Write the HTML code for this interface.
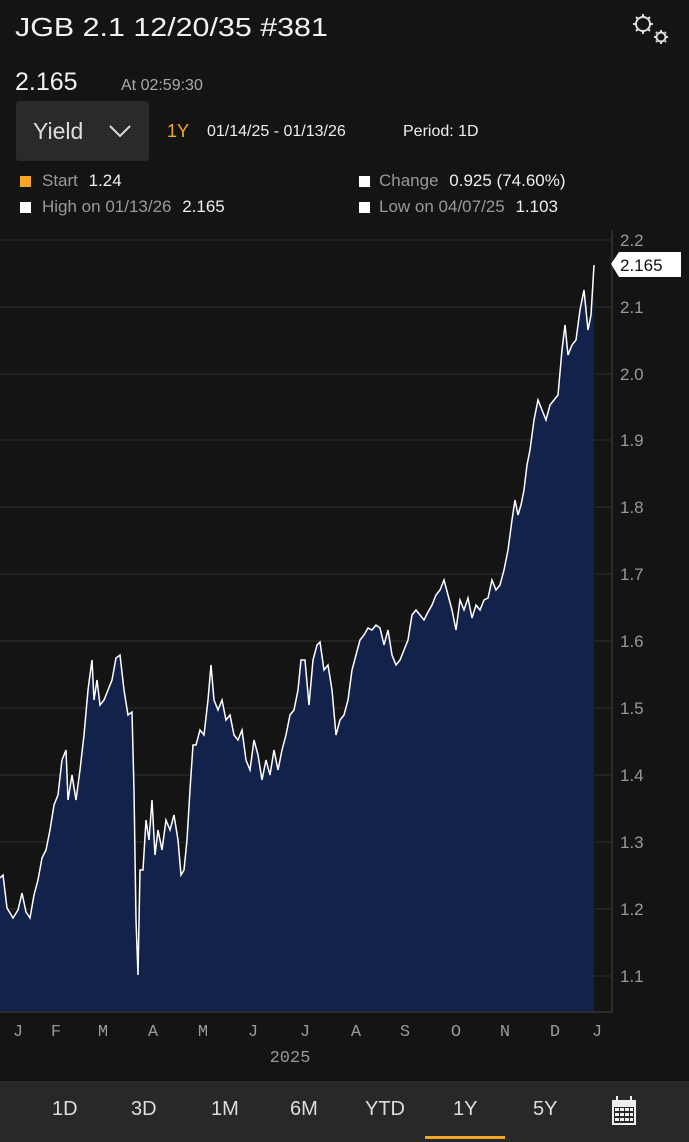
<!DOCTYPE html>
<html><head><style>
body{margin:0;width:689px;height:1142px;background:#141414;font-family:"Liberation Sans","DejaVu Sans",sans-serif;color:#eee;position:relative;overflow:hidden}
.a{position:absolute;white-space:nowrap}
</style></head><body>
<div class="a" style="left:15px;top:12px;font-size:26px;color:#f2f2f2;transform:scaleX(1.17);transform-origin:left">JGB 2.1 12/20/35 #381</div>
<svg class="a" style="left:628px;top:10px" width="44" height="36" viewBox="0 0 44 36" fill="none" stroke="#ddd" stroke-width="2">
<circle cx="15" cy="14" r="7"/><path d="M15 4v3M15 21v3M5 14h3M22 14h3M8 7l2 2M20 19l2 2M8 21l2-2M20 9l2-2"/>
<circle cx="33" cy="27" r="4.5"/><path d="M33 20v2M33 32v2M26 27h2M38 27h2M28 22l1 1M37 31l1 1M28 32l1-1M37 23l1-1"/></svg>
<div class="a" style="left:15px;top:68px;font-size:25px;color:#f2f2f2">2.165</div>
<div class="a" style="left:121px;top:77px;font-size:16px;color:#aaa">At 02:59:30</div>
<div class="a" style="left:16px;top:101px;width:133px;height:60px;background:#2a2a2a;border-radius:3px"></div>
<div class="a" style="left:33px;top:118px;font-size:23px;color:#ddd">Yield</div>
<svg class="a" style="left:108px;top:124px" width="24" height="14"><path d="M2 2l10 10 10-10" stroke="#ddd" stroke-width="2" fill="none"/></svg>
<div class="a" style="left:167px;top:121px;font-size:18px;color:#f5a623">1Y</div>
<div class="a" style="left:207px;top:123px;font-size:16px;color:#eee">01/14/25 - 01/13/26</div>
<div class="a" style="left:306px;top:123px;font-size:16px;color:#eee;display:none"></div>
<div class="a" style="left:403px;top:123px;font-size:16px;color:#eee">Period: 1D</div>
<div class="a" style="left:20px;top:176px;width:11px;height:11px;background:#f5a623"></div>
<div class="a" style="left:42px;top:171px;font-size:17px;color:#999">Start <span style="color:#eee;margin-left:6px">1.24</span></div>
<div class="a" style="left:20px;top:202px;width:11px;height:11px;background:#fff"></div>
<div class="a" style="left:42px;top:197px;font-size:17px;color:#999">High on 01/13/26 <span style="color:#eee;margin-left:6px">2.165</span></div>
<div class="a" style="left:359px;top:176px;width:11px;height:11px;background:#fff"></div>
<div class="a" style="left:379px;top:171px;font-size:17px;color:#999">Change <span style="color:#eee;margin-left:6px">0.925 (74.60%)</span></div>
<div class="a" style="left:359px;top:202px;width:11px;height:11px;background:#fff"></div>
<div class="a" style="left:379px;top:197px;font-size:17px;color:#999">Low on 04/07/25 <span style="color:#eee;margin-left:6px">1.103</span></div>

<svg class="a" style="left:0;top:0" width="689" height="1080">
<g stroke="#2e2e2e" stroke-width="1">
<line x1="0" x2="612" y1="240" y2="240"/><line x1="0" x2="612" y1="307" y2="307"/><line x1="0" x2="612" y1="374" y2="374"/><line x1="0" x2="612" y1="440" y2="440"/><line x1="0" x2="612" y1="507" y2="507"/><line x1="0" x2="612" y1="574" y2="574"/><line x1="0" x2="612" y1="641" y2="641"/><line x1="0" x2="612" y1="708" y2="708"/><line x1="0" x2="612" y1="775" y2="775"/><line x1="0" x2="612" y1="842" y2="842"/><line x1="0" x2="612" y1="909" y2="909"/><line x1="0" x2="612" y1="976" y2="976"/>
</g>
<path d="M0 1011 L0,878 3,875 7,908 13,918 18,910 22,893 26,912 30,918 34,895 38,880 42,858 46,850 50,830 54,805 58,795 62,760 66,750 68,800 72,775 76,800 80,770 84,735 88,690 92,660 94,700 97,680 100,705 104,700 108,690 112,680 116,658 120,655 124,690 128,715 132,712 134,790 136,920 138,975 140,870 143,870 146,820 149,840 152,800 155,855 158,830 162,850 166,820 170,830 174,815 178,840 181,875 184,870 187,840 190,790 193,745 196,745 200,730 204,735 208,700 211,665 214,700 218,710 222,700 226,720 230,715 234,735 238,740 242,730 246,760 250,770 254,740 258,755 262,780 266,760 270,775 274,750 278,770 282,750 286,735 290,715 294,710 298,690 301,660 305,660 309,705 313,660 317,645 320,642 324,670 328,665 332,690 336,735 340,720 344,715 348,700 352,670 356,655 360,640 364,635 368,628 372,630 376,625 380,628 384,645 388,630 392,655 396,665 400,660 404,650 408,640 412,615 416,610 420,615 424,620 428,612 432,605 436,595 440,590 444,580 448,595 452,610 456,630 460,600 464,610 468,598 472,618 476,605 480,610 484,600 488,598 492,580 496,590 500,585 504,570 508,550 512,520 515,500 518,515 521,505 524,490 527,465 530,450 534,420 538,400 542,410 546,420 550,405 554,400 558,395 562,350 565,325 568,355 572,345 576,340 580,310 584,290 588,330 591,315 594,265 L594 1011 Z" fill="#12224a"/>
<polyline fill="none" stroke="#fff" stroke-width="1.5" points="0,878 3,875 7,908 13,918 18,910 22,893 26,912 30,918 34,895 38,880 42,858 46,850 50,830 54,805 58,795 62,760 66,750 68,800 72,775 76,800 80,770 84,735 88,690 92,660 94,700 97,680 100,705 104,700 108,690 112,680 116,658 120,655 124,690 128,715 132,712 134,790 136,920 138,975 140,870 143,870 146,820 149,840 152,800 155,855 158,830 162,850 166,820 170,830 174,815 178,840 181,875 184,870 187,840 190,790 193,745 196,745 200,730 204,735 208,700 211,665 214,700 218,710 222,700 226,720 230,715 234,735 238,740 242,730 246,760 250,770 254,740 258,755 262,780 266,760 270,775 274,750 278,770 282,750 286,735 290,715 294,710 298,690 301,660 305,660 309,705 313,660 317,645 320,642 324,670 328,665 332,690 336,735 340,720 344,715 348,700 352,670 356,655 360,640 364,635 368,628 372,630 376,625 380,628 384,645 388,630 392,655 396,665 400,660 404,650 408,640 412,615 416,610 420,615 424,620 428,612 432,605 436,595 440,590 444,580 448,595 452,610 456,630 460,600 464,610 468,598 472,618 476,605 480,610 484,600 488,598 492,580 496,590 500,585 504,570 508,550 512,520 515,500 518,515 521,505 524,490 527,465 530,450 534,420 538,400 542,410 546,420 550,405 554,400 558,395 562,350 565,325 568,355 572,345 576,340 580,310 584,290 588,330 591,315 594,265"/>
<path d="M612 230 V1012 H0" stroke="#444" fill="none"/>
<g font-size="17" fill="#999" font-family="Liberation Sans, sans-serif">
<text x="620" y="246">2.2</text><text x="620" y="380">2.0</text><text x="620" y="446">1.9</text><text x="620" y="513">1.8</text><text x="620" y="580">1.7</text><text x="620" y="647">1.6</text><text x="620" y="714">1.5</text><text x="620" y="781">1.4</text><text x="620" y="848">1.3</text><text x="620" y="915">1.2</text><text x="620" y="982">1.1</text><text x="620" y="313">2.1</text>
</g>
<path d="M611 264 L619 252 H681 V277 H619 Z" fill="#fff"/>
<text x="620" y="271" font-size="17" fill="#111">2.165</text>
<g font-size="17" fill="#999" text-anchor="middle" font-family="Liberation Mono, monospace">
<text x="18" y="1036">J</text><text x="56" y="1036">F</text><text x="103" y="1036">M</text><text x="153" y="1036">A</text><text x="203" y="1036">M</text><text x="253" y="1036">J</text><text x="305" y="1036">J</text><text x="356" y="1036">A</text><text x="405" y="1036">S</text><text x="456" y="1036">O</text><text x="505" y="1036">N</text><text x="555" y="1036">D</text><text x="597" y="1036">J</text>
<text x="290" y="1062">2025</text>
</g>
</svg>
<div class="a" style="left:0;top:1081px;width:689px;height:61px;background:#282828"></div>
<div class="a" style="left:0;top:1098px;width:689px;font-size:20px;color:#ddd">
<span class="a" style="left:52px">1D</span><span class="a" style="left:131px">3D</span><span class="a" style="left:211px">1M</span><span class="a" style="left:290px">6M</span><span class="a" style="left:365px">YTD</span><span class="a" style="left:453px">1Y</span><span class="a" style="left:533px">5Y</span></div>
<div class="a" style="left:425px;top:1136px;width:80px;height:3px;background:#f5a623"></div>
<svg class="a" style="left:611px;top:1096px" width="26" height="30"><rect x="1" y="4" width="24" height="25" fill="#eee"/><rect x="5" y="0" width="2" height="6" fill="#eee"/><rect x="19" y="0" width="2" height="6" fill="#eee"/><g fill="#282828"><rect x="3" y="11" width="20" height="16"/></g><g fill="#eee"><rect x="4" y="12" width="4" height="3"/><rect x="9" y="12" width="4" height="3"/><rect x="14" y="12" width="4" height="3"/><rect x="19" y="12" width="3" height="3"/><rect x="4" y="17" width="4" height="3"/><rect x="9" y="17" width="4" height="3"/><rect x="14" y="17" width="4" height="3"/><rect x="19" y="17" width="3" height="3"/><rect x="4" y="22" width="4" height="3"/><rect x="9" y="22" width="4" height="3"/><rect x="14" y="22" width="4" height="3"/><rect x="19" y="22" width="3" height="3"/></g></svg>
</body></html>
